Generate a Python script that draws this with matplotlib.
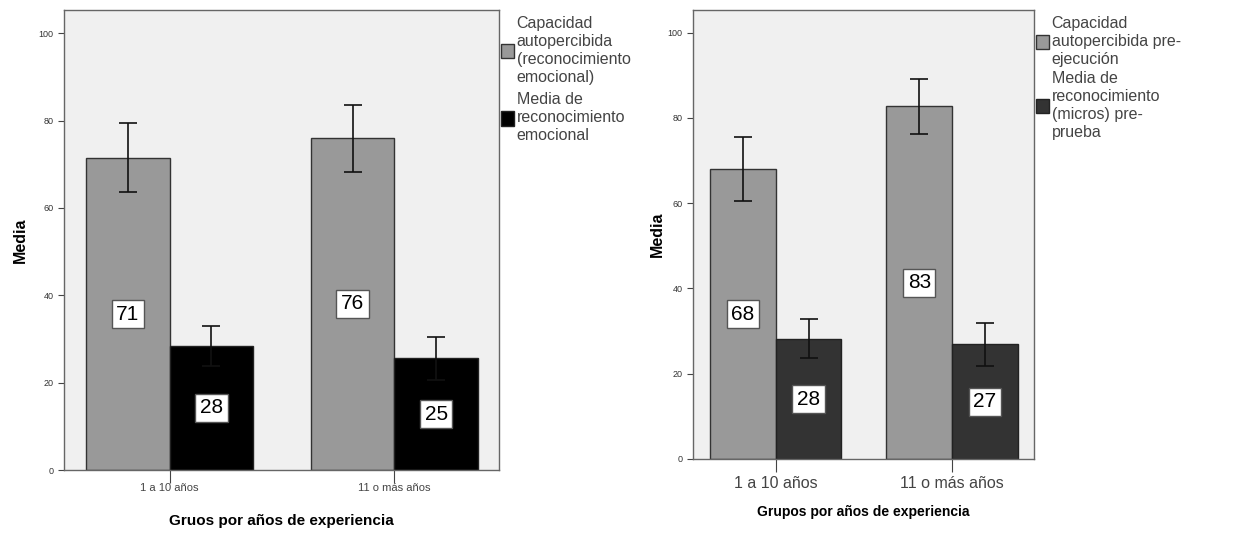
import matplotlib
matplotlib.use("Agg")
import matplotlib.pyplot as plt
import numpy as np

plt.rcParams['font.family'] = ['Liberation Sans', 'DejaVu Sans']

grupos = ["1 a 10 años", "11 o más años"]

# panel izquierdo
izq_capacidad = [71.4, 76.0]
izq_capacidad_inf = [63.6, 68.2]
izq_capacidad_sup = [79.4, 83.5]
izq_reconoc = [28.4, 25.6]
izq_reconoc_inf = [23.8, 20.7]
izq_reconoc_sup = [33.0, 30.5]
izq_etq_cap = ["71", "76"]
izq_etq_rec = ["28", "25"]
izq_leyenda = ["Capacidad\nautopercibida\n(reconocimiento\nemocional)",
               "Media de\nreconocimiento\nemocional"]

# panel derecho
der_capacidad = [67.9, 82.7]
der_capacidad_inf = [60.4, 76.3]
der_capacidad_sup = [75.4, 89.2]
der_reconoc = [28.1, 26.9]
der_reconoc_inf = [23.6, 21.8]
der_reconoc_sup = [32.8, 32.0]
der_etq_cap = ["68", "83"]
der_etq_rec = ["28", "27"]
der_leyenda = ["Capacidad\nautopercibida pre-\nejecución",
               "Media de\nreconocimiento\n(micros) pre-\nprueba"]

fig = plt.figure(figsize=(12.53, 5.42), dpi=100)
ax1 = fig.add_axes([64/1253, 72/542, 435/1253, 460/542])
ax2 = fig.add_axes([693/1253, 83/542, 341/1253, 449/542])


def panel(ax, cap, cap_inf, cap_sup, rec, rec_inf, rec_sup, etq_cap, etq_rec,
          leyenda, color_rec, xlabel, fs_xtick, fs_xlabel, ylpad, xlpad, xtpad, lsp):
    x = np.arange(len(grupos))
    w = 0.372
    ax.set_facecolor('#f0f0f0')
    b1 = ax.bar(x - w/2, cap, w, color='#999999', edgecolor='#333333', lw=1, zorder=2)
    b2 = ax.bar(x + w/2, rec, w, color=color_rec, edgecolor='#222222', lw=1, zorder=2)
    for xs, m, lo, hi in [(x - w/2, cap, cap_inf, cap_sup), (x + w/2, rec, rec_inf, rec_sup)]:
        m = np.array(m)
        yerr = [m - np.array(lo), np.array(hi) - m]
        ax.errorbar(xs, m, yerr=yerr, fmt='none', ecolor='#111111', elinewidth=1.2,
                    capsize=6.5, capthick=1.2, zorder=3)
    for xs, m, t in [(x - w/2, cap, etq_cap), (x + w/2, rec, etq_rec)]:
        for xi, mi, ti in zip(xs, m, t):
            ax.text(xi, mi/2, ti, ha='center', va='center', fontsize=15, zorder=4,
                    bbox=dict(boxstyle='square,pad=0.22', fc='white', ec='#555555', lw=1))
    ax.set_xlim(-0.47, 1.465)
    ax.set_ylim(0, 105.3)
    ax.set_yticks([0, 20, 40, 60, 80, 100])
    ax.set_xticks(x)
    ax.set_xticklabels(grupos, fontsize=fs_xtick, color='#333333')
    ax.tick_params(axis='y', labelsize=6.5, length=4, colors='#444444', labelcolor='#333333')
    ax.tick_params(axis='x', length=9, colors='#444444', pad=xtpad)
    for s in ax.spines.values():
        s.set_color('#666666')
        s.set_linewidth(1)
    ax.set_ylabel('Media', fontsize=11.5, fontweight='bold', labelpad=ylpad)
    ax.set_xlabel(xlabel, fontsize=fs_xlabel, fontweight='bold', labelpad=xlpad)
    leg = ax.legend([b1, b2], leyenda, loc='upper left', bbox_to_anchor=(1.0, 0.99),
                    frameon=False, fontsize=11.5,
                    handlelength=0.85, handleheight=1.0,
                    handletextpad=0.15, borderaxespad=0, borderpad=0.1, labelspacing=lsp)
    for t in leg.get_texts():
        t.set_color('#444444')
        t.set_linespacing(1.25)


panel(ax1, izq_capacidad, izq_capacidad_inf, izq_capacidad_sup,
      izq_reconoc, izq_reconoc_inf, izq_reconoc_sup, izq_etq_cap, izq_etq_rec,
      izq_leyenda, '#000000', 'Gruos por años de experiencia', 8, 11, 8, 15, 0.5, 0.45)
panel(ax2, der_capacidad, der_capacidad_inf, der_capacidad_sup,
      der_reconoc, der_reconoc_inf, der_reconoc_sup, der_etq_cap, der_etq_rec,
      der_leyenda, '#333333', 'Grupos por años de experiencia', 11.5, 10, 2, 10, 3, 0.25)

fig.savefig('out.png', dpi=100, facecolor='white')
